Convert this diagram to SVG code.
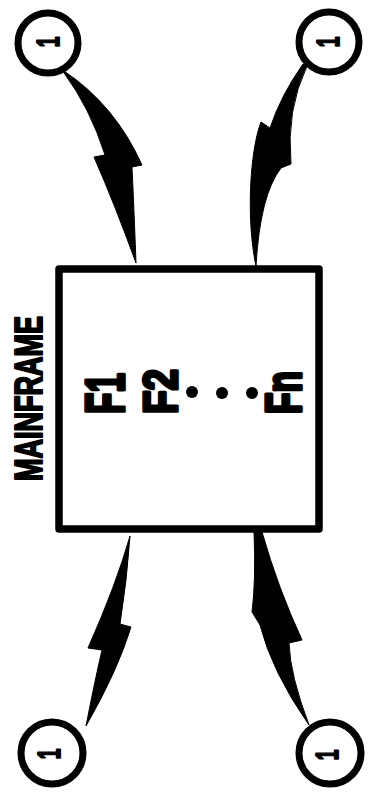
<svg xmlns="http://www.w3.org/2000/svg" width="370" height="804" viewBox="0 0 370 804">
<style>
.box{fill:#fff;stroke:#000;stroke-width:7.5;stroke-linejoin:round}
.ring{fill:#fff;stroke:#000;stroke-width:7}
.bolt{fill:#000;stroke:#000;stroke-width:1;stroke-linejoin:round}
.lbl{font-family:"Liberation Sans",Arial,sans-serif;font-weight:bold;fill:#000;stroke:#000;stroke-linejoin:round}
.dot{fill:#000}
</style>
<g id="connectors">
<path class="bolt" d="M64,71 Q115,105 142,165 L132,167 Q134,210 136,263 Q115,205 94,157 L105,155 Q90,108 64,73 Z"/>
<path class="bolt" d="M303,64 Q281,95 270,128 L261,122 C250,150 246,220 256,266 Q260,195 281,168 L291,164 Q286,110 307,66 Z"/>
<path class="bolt" d="M130,536 Q127,580 120,624 L131,627 Q118,670 86,726 Q95,680 102,650 L88,648 Q116,585 130,536 Z"/>
<path class="bolt" d="M254,532 Q256,580 252,612 L260,625 Q272,672 309,725 Q290,675 289,643 L302,640 Q278,588 262,532 Z"/>
</g>
<g id="mainframe">
<rect class="box" x="59" y="269" width="260" height="260"/>
<text class="lbl" font-size="38" stroke-width="2" transform="translate(42,481) rotate(-90)" textLength="165" lengthAdjust="spacingAndGlyphs">MAINFRAME</text>
<text class="lbl" font-size="56" stroke-width="3.5" transform="translate(124,414) rotate(-90)" textLength="41" lengthAdjust="spacingAndGlyphs">F1</text>
<text class="lbl" font-size="48" stroke-width="3.5" transform="translate(177,414) rotate(-90)" textLength="45" lengthAdjust="spacingAndGlyphs">F2</text>
<text class="lbl" font-size="50" stroke-width="3.5" transform="translate(301,414) rotate(-90)" textLength="43" lengthAdjust="spacingAndGlyphs">Fn</text>
<circle class="dot" cx="192" cy="392" r="6"/>
<circle class="dot" cx="222" cy="393" r="6"/>
<circle class="dot" cx="252" cy="393" r="6"/>
</g>
<g id="terminal-top-left">
<circle class="ring" cx="48" cy="43" r="30"/>
<text class="lbl" font-size="32" stroke-width="2" text-anchor="middle" transform="translate(59,42) rotate(-90) scale(0.6,1)">1</text>
</g>
<g id="terminal-top-right">
<circle class="ring" cx="329" cy="42" r="30"/>
<text class="lbl" font-size="32" stroke-width="2" text-anchor="middle" transform="translate(339,42) rotate(-90) scale(0.6,1)">1</text>
</g>
<g id="terminal-bottom-left">
<circle class="ring" cx="52" cy="753" r="31"/>
<text class="lbl" font-size="32" stroke-width="2" text-anchor="middle" transform="translate(60,754) rotate(-90) scale(0.6,1)">1</text>
</g>
<g id="terminal-bottom-right">
<circle class="ring" cx="330" cy="753" r="31"/>
<text class="lbl" font-size="32" stroke-width="2" text-anchor="middle" transform="translate(338,755) rotate(-90) scale(0.6,1)">1</text>
</g>
</svg>
